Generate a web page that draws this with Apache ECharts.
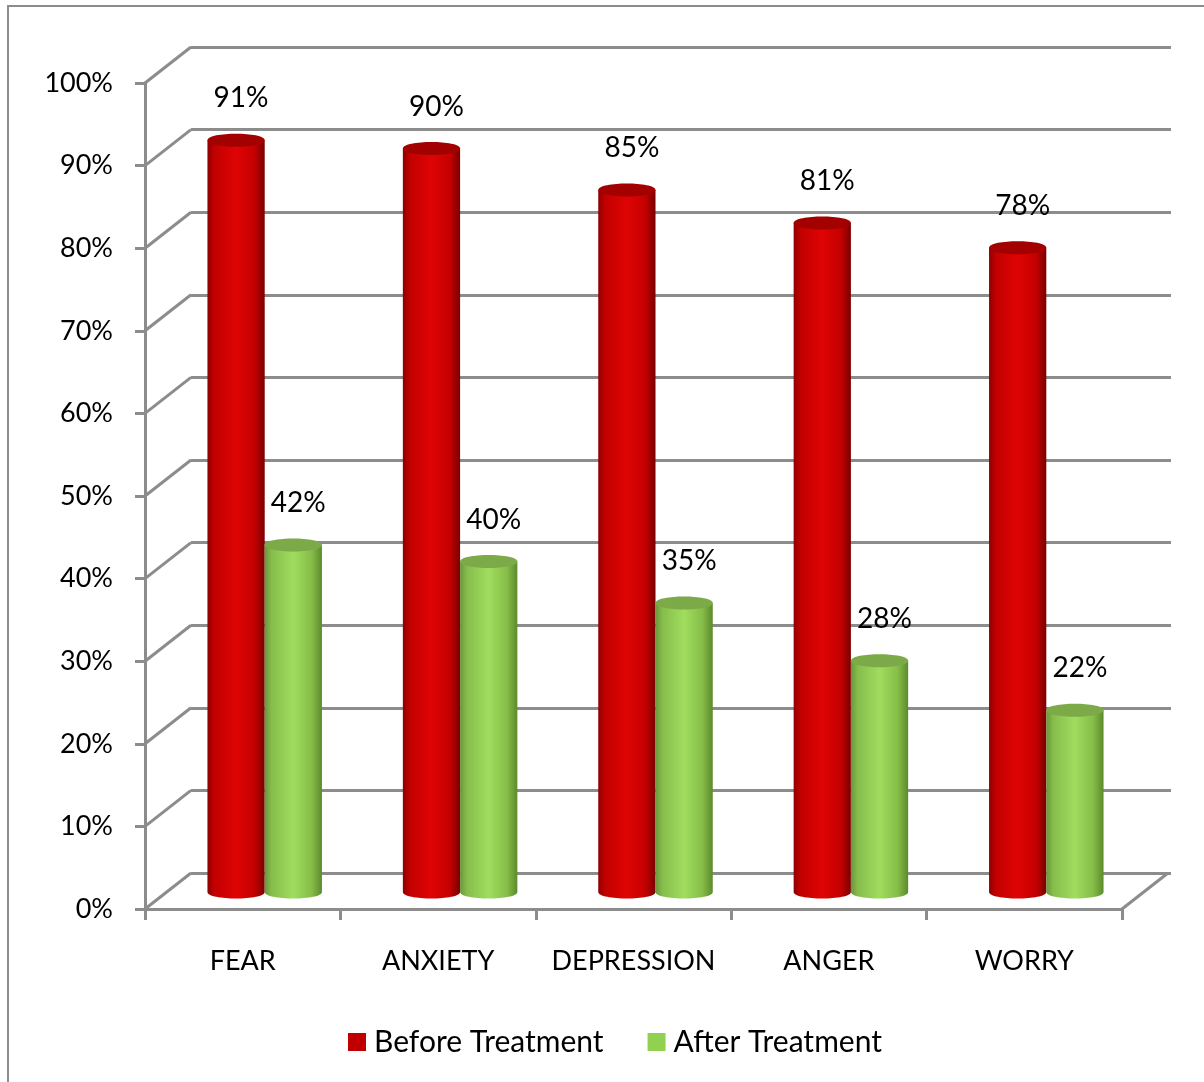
<!DOCTYPE html>
<html>
<head>
<meta charset="utf-8">
<style>
  html, body { margin: 0; padding: 0; background: #fff; }
  #chart { width: 1204px; height: 1082px; }
</style>
<script src="https://cdn.jsdelivr.net/npm/echarts@6/dist/echarts.min.js"></script>
</head>
<body>
<div id="chart"></div>
<script>
// Emotional symptoms before and after treatment (percent of patients)
const categories = ['FEAR', 'ANXIETY', 'DEPRESSION', 'ANGER', 'WORRY'];
const beforeTreatment = [91, 90, 85, 81, 78];
const afterTreatment = [42, 40, 35, 28, 22];
const percentTicks = [0, 10, 20, 30, 40, 50, 60, 70, 80, 90, 100];

// Pseudo-3D depth: offset from the front plane to the back wall, and to the bar plane
const WALL_DX = 46, WALL_DY = -36;
const BAR_DX = 22, BAR_DY = -17;
const LINE_COLOR = '#8c8c8c';
const FONT = 'Lato';
const FONT_SIZE = 27;

const chart = echarts.init(document.getElementById('chart'), null, { renderer: 'canvas' });

function cylinderRenderer(side, bodyStops, topColor) {
  return function (params, api) {
    const ci = api.value(0);
    const v = api.value(1);
    const top = api.coord([ci, v]);
    const base = api.coord([ci, 0]);
    const w = api.size([1, 0])[0] * 0.293;
    const x1 = top[0] + BAR_DX + (side < 0 ? -w : 0);
    const x2 = x1 + w;
    const yt = top[1] + BAR_DY;
    const yb = base[1] + BAR_DY;
    const ry = 6.5, k = ry * 4 / 3;
    const bodyPath = `M${x1} ${yt} L${x1} ${yb} C${x1} ${yb + k} ${x2} ${yb + k} ${x2} ${yb} L${x2} ${yt} Z`;
    const capPath = `M${x1} ${yt} C${x1} ${yt - k} ${x2} ${yt - k} ${x2} ${yt} C${x2} ${yt + k} ${x1} ${yt + k} ${x1} ${yt} Z`;
    return {
      type: 'group',
      children: [
        {
          type: 'path',
          shape: { pathData: bodyPath },
          style: {
            fill: { type: 'linear', x: 0, y: 0, x2: 1, y2: 0, colorStops: bodyStops }
          }
        },
        {
          type: 'path',
          shape: { pathData: capPath },
          style: { fill: topColor }
        },
        {
          type: 'text',
          style: {
            text: v + '%',
            x: (x1 + x2) / 2 + 5,
            y: yt - 42,
            align: 'center',
            verticalAlign: 'middle',
            fontFamily: FONT,
            fontSize: 28,
            fill: '#000'
          }
        }
      ]
    };
  };
}

const redStops = [
  { offset: 0, color: '#8e0000' },
  { offset: 0.12, color: '#c20000' },
  { offset: 0.5, color: '#df0404' },
  { offset: 0.82, color: '#c40000' },
  { offset: 1, color: '#7a0000' }
];
const greenStops = [
  { offset: 0, color: '#6b963a' },
  { offset: 0.12, color: '#86bd4c' },
  { offset: 0.5, color: '#a0dd5e' },
  { offset: 0.82, color: '#86bd48' },
  { offset: 1, color: '#5c8a2c' }
];

// Side walls and floor edges joining the front axis to the back wall
function wallRenderer(params, api) {
  const cs = params.coordSys;
  const v = api.value(1);
  const p = api.coord([0, v]);
  const children = [{
    type: 'line',
    shape: { x1: cs.x, y1: p[1], x2: cs.x + WALL_DX, y2: p[1] + WALL_DY },
    style: { stroke: LINE_COLOR, lineWidth: 3 }
  }];
  if (v === 0) {
    const xr = cs.x + cs.width;
    children.push({
      type: 'line',
      shape: { x1: xr, y1: p[1], x2: xr + WALL_DX, y2: p[1] + WALL_DY },
      style: { stroke: LINE_COLOR, lineWidth: 3 }
    });
  }
  return { type: 'group', children };
}

const option = {
  backgroundColor: '#fff',
  animation: false,
  graphic: [{
    type: 'rect',
    shape: { x: 8, y: 6, width: 1220, height: 1100 },
    style: { fill: 'none', stroke: '#8c8c8c', lineWidth: 2 },
    silent: true
  }],
  legend: {
    left: 343,
    top: 1022,
    itemWidth: 18,
    itemHeight: 18,
    itemGap: 44,
    icon: 'rect',
    textStyle: { fontFamily: FONT, fontSize: 30, color: '#000', padding: [0, 0, 0, 3] },
    data: ['Before Treatment', 'After Treatment']
  },
  grid: [
    { left: 145, right: 82, top: 83, bottom: 173 },   // front plane
    { left: 191, right: 33, top: 47, bottom: 209 }    // back wall
  ],
  xAxis: [
    {
      gridIndex: 0,
      type: 'category',
      data: categories,
      axisLine: { lineStyle: { color: LINE_COLOR, width: 3 } },
      axisTick: { show: true, interval: 0, length: 11, lineStyle: { color: LINE_COLOR, width: 3 } },
      axisLabel: { interval: 0, color: '#000', fontFamily: FONT, fontSize: FONT_SIZE, margin: 39 }
    },
    { gridIndex: 1, type: 'value', show: false, min: 0, max: 1 }
  ],
  yAxis: [
    {
      gridIndex: 0,
      type: 'value',
      min: 0,
      max: 100,
      interval: 10,
      axisLine: { show: true, lineStyle: { color: LINE_COLOR, width: 3 } },
      axisTick: { show: true, length: 10, lineStyle: { color: LINE_COLOR, width: 3 } },
      splitLine: { show: false },
      axisLabel: { formatter: '{value}%', color: '#000', fontFamily: FONT, fontSize: FONT_SIZE, margin: 32 }
    },
    {
      gridIndex: 1,
      type: 'value',
      min: 0,
      max: 100,
      interval: 10,
      axisLine: { show: false },
      axisTick: { show: false },
      axisLabel: { show: false },
      splitLine: { show: true, lineStyle: { color: LINE_COLOR, width: 3 } }
    }
  ],
  series: [
    {
      type: 'custom',
      name: 'walls',
      xAxisIndex: 0,
      yAxisIndex: 0,
      z: 1,
      clip: false,
      silent: true,
      renderItem: wallRenderer,
      encode: { x: 0, y: 1 },
      data: percentTicks.map(v => [0, v])
    },
    {
      type: 'custom',
      name: 'Before Treatment',
      xAxisIndex: 0,
      yAxisIndex: 0,
      z: 3,
      clip: false,
      itemStyle: { color: '#c00000' },
      renderItem: cylinderRenderer(-1, redStops, '#a30000'),
      encode: { x: 0, y: 1 },
      data: beforeTreatment.map((v, i) => [i, v])
    },
    {
      type: 'custom',
      name: 'After Treatment',
      xAxisIndex: 0,
      yAxisIndex: 0,
      z: 4,
      clip: false,
      itemStyle: { color: '#92d050' },
      renderItem: cylinderRenderer(1, greenStops, '#7caa48'),
      encode: { x: 0, y: 1 },
      data: afterTreatment.map((v, i) => [i, v])
    }
  ]
};

chart.setOption(option);
</script>
</body>
</html>
